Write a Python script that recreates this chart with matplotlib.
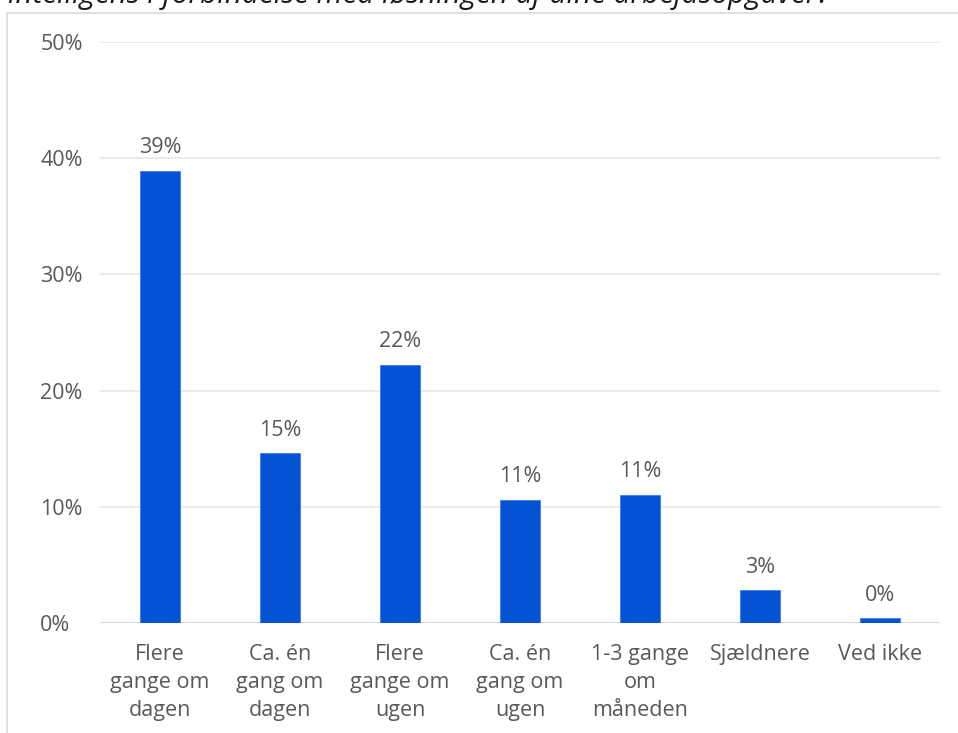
import matplotlib.pyplot as plt
import matplotlib.patches as mpatches
import numpy as np

categories = ["Flere\ngange om\ndagen", "Ca. én\ngang om\ndagen", "Flere\ngange om\nugen",
              "Ca. én\ngang om\nugen", "1-3 gange\nom\nmåneden", "Sjældnere", "Ved ikke"]
values = [38.9, 14.6, 22.2, 10.6, 11.0, 2.8, 0.4]
labels = ["39%", "15%", "22%", "11%", "11%", "3%", "0%"]
yticks = [0, 10, 20, 30, 40, 50]

plt.rcParams['font.family'] = ['Open Sans', 'DejaVu Sans']
text_col = '#595959'

W, H = 958, 733
fig = plt.figure(figsize=(W / 100, H / 100), dpi=100)
ax = fig.add_axes([100 / W, 1 - 623 / H, 840 / W, 581 / H])

# frame around the chart area
fig.patches.append(mpatches.Rectangle((7 / W, -0.1), 1.1, 1 - 13 / H + 0.1,
                                      transform=fig.transFigure, fill=False,
                                      edgecolor='#d9d9d9', linewidth=1.2))

# cut-off question text at the top (only its lower part shows)
title = fig.text(8 / W, 1 - 3 / H, "intelligens i forbindelse med løsningen af dine arbejdsopgaver?",
                 fontsize=17, style='italic', color='#1a1a1a', ha='left', va='baseline')
r = fig.canvas.get_renderer()
wpx = title.get_window_extent(r).width
title.set_fontsize(17 * 822 / wpx)

x = np.arange(len(categories))
ax.bar(x, values, width=40 / 120, color='#0453d4', edgecolor='#3f7bf0', linewidth=0.6, zorder=3)
for xi, v, lab in zip(x, values, labels):
    ax.text(xi, v + 1.1, lab, ha='center', va='bottom', fontsize=15.5, color=text_col)

ax.set_xlim(-0.5, len(categories) - 0.5)
ax.set_ylim(0, 50)
ax.set_yticks(yticks)
ax.set_yticklabels([f"{t}%" for t in yticks], ha='left')
ax.set_xticks(x)
ax.set_xticklabels(categories, linespacing=1.45)
ax.tick_params(axis='both', length=0, labelsize=15.5, labelcolor=text_col)
ax.tick_params(axis='y', pad=43)
ax.tick_params(axis='x', pad=15)
for s in ax.spines.values():
    s.set_visible(False)
ax.grid(axis='y', color='#e6e6e6', linewidth=1.2, zorder=0)
ax.axhline(0, color='#d9d9d9', linewidth=1.5, zorder=2)

fig.savefig("out.png", dpi=100)
